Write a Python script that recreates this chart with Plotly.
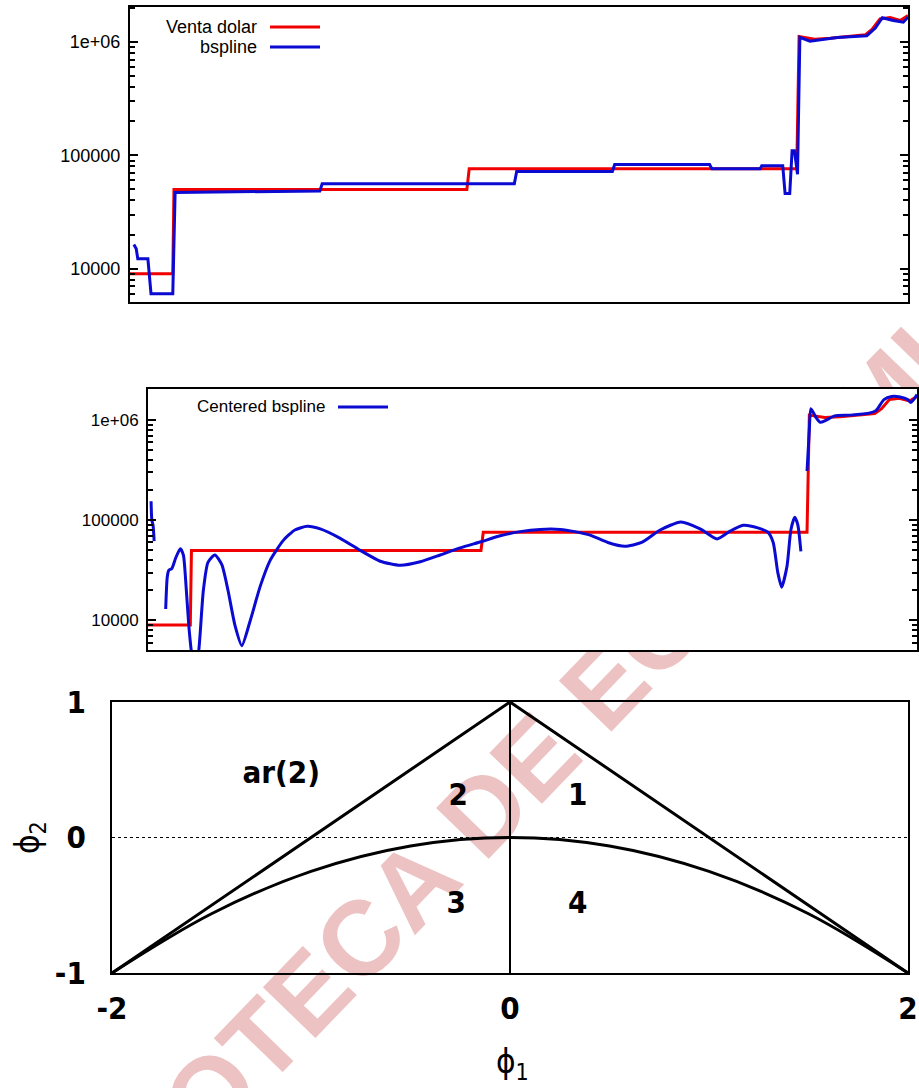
import math
import plotly.graph_objects as go

W, H = 919, 1088

# ---------------- exchange-rate series (observation index 0..1000) ----------------
venta_t = [0, 55, 56.5, 433, 436, 857, 860, 880, 900, 925, 945, 954, 964, 977, 990, 1000]
venta_v = [9000, 9000, 50000, 50000, 76000, 76000, 1.12e6, 1.06e6, 1.08e6, 1.12e6,
           1.16e6, 1.3e6, 1.6e6, 1.65e6, 1.55e6, 1.72e6]

bspline_t = [5, 8, 10, 23, 27, 55, 58, 200, 244, 247, 494, 497, 620, 623, 745, 748,
             810, 812, 839, 842, 848, 851, 854, 858, 861, 874, 896, 909, 947, 958,
             967, 981, 994, 1000]
bspline_v = [16300, 15000, 12200, 12200, 6000, 6000, 47000, 48500, 48500, 56000,
             56000, 72000, 72000, 83000, 83000, 76000, 76000, 81000, 81000, 46000,
             46000, 110000, 110000, 68000, 1.1e6, 1.02e6, 1.06e6, 1.1e6, 1.14e6,
             1.33e6, 1.64e6, 1.55e6, 1.5e6, 1.66e6]

centered_t = [4, 5, 6.5, 8, None,
              23, 25, 27, 31, 36, 42, 46, 49, 53, 57, 61, 66, 72, 78, 87, 96, 104,
              113, 122, 133, 146, 159, 176, 191, 207, 224, 250, 276, 302, 328, 354,
              380, 406, 433, 458, 484, 510, 536, 555, 575, 598, 620, 642, 666, 693,
              718, 740, 757, 774, 793, 806, 813, 819, 824, 831, 836, 841, 845, 849, None,
              857, 860, 862, 869, 874, 882, 893, 913, 939, 947, 957, 967, 978, 988,
              992, 997, 1000]
centered_v = [155000, 100000, 90000, 62000, None,
              13000, 27000, 31600, 33000, 42000, 52000, 45000, 25000, 9000, 4500,
              3000, 5000, 20000, 38000, 45000, 36000, 20000, 9000, 5600, 10000,
              22000, 40000, 63000, 80000, 87000, 82000, 66000, 50000, 39000, 35500,
              38500, 45000, 53000, 61000, 70000, 77000, 81000, 81000, 77000, 71000,
              60000, 55000, 60000, 80000, 96000, 82000, 65000, 78000, 89000, 84000,
              76000, 60000, 30000, 21500, 35000, 80000, 107000, 90000, 49000, None,
              310000, 800000, 1.3e6, 1.05e6, 0.95e6, 1.0e6, 1.1e6, 1.12e6, 1.18e6,
              1.25e6, 1.6e6, 1.72e6, 1.7e6, 1.6e6, 1.5e6, 1.65e6, 1.8e6]

log_ticks = [1e4, 1e5, 1e6]
log_tick_text = ["10000", "100000", "1e+06"]
log_minor = [6000, 7000, 8000, 9000,
             20000, 30000, 40000, 50000, 60000, 70000, 80000, 90000,
             200000, 300000, 400000, 500000, 600000, 700000, 800000, 900000, 2000000]

# ---------------- AR(2) stationarity region ----------------
triangle_phi1 = [-2, 0, 2]
triangle_phi2 = [-1, 1, -1]
divider_phi1 = [0, 0]
divider_phi2 = [-1, 1]
boundary_phi1 = [-2, -1.5, -1, -0.5, 0, 0.5, 1, 1.5, 2]
boundary_phi2 = [-1, -0.5625, -0.25, -0.0625, 0, -0.0625, -0.25, -0.5625, -1]
region_labels = ["ar(2)", "2", "1", "3", "4"]
region_phi1 = [-1.15, -0.26, 0.34, -0.27, 0.34]
region_phi2 = [0.46, 0.30, 0.30, -0.50, -0.50]

RED = "#f00000"
BLUE = "#0a0ad2"
TICK_FONT = dict(family="Liberation Sans, Arial, sans-serif", size=18, color="black")
NARROW = "DejaVu Sans Condensed, Liberation Sans Narrow, Arial Narrow, Liberation Sans, sans-serif"
BIG_FONT = dict(family=NARROW, size=31, color="black", weight="bold")


def fx(p):
    return p / W


def fy(p):
    return 1 - p / H


fig = go.Figure()

# panel 1
fig.add_trace(go.Scatter(x=venta_t, y=venta_v, mode="lines", line=dict(color=RED, width=3),
                         xaxis="x", yaxis="y", showlegend=False))
fig.add_trace(go.Scatter(x=bspline_t, y=bspline_v, mode="lines", line=dict(color=BLUE, width=3),
                         xaxis="x", yaxis="y", showlegend=False))
# panel 2
fig.add_trace(go.Scatter(x=venta_t, y=venta_v, mode="lines", line=dict(color=RED, width=3),
                         xaxis="x2", yaxis="y2", showlegend=False))
fig.add_trace(go.Scatter(x=centered_t, y=centered_v, mode="lines", connectgaps=False,
                         line=dict(color=BLUE, width=3, shape="spline", smoothing=0.6),
                         xaxis="x2", yaxis="y2", showlegend=False))
# panel 3
fig.add_trace(go.Scatter(x=[-2, 2], y=[0, 0], mode="lines",
                         line=dict(color="black", width=1, dash="dot"),
                         xaxis="x3", yaxis="y3", showlegend=False))
fig.add_trace(go.Scatter(x=triangle_phi1, y=triangle_phi2, mode="lines",
                         line=dict(color="black", width=3), xaxis="x3", yaxis="y3",
                         showlegend=False))
fig.add_trace(go.Scatter(x=divider_phi1, y=divider_phi2, mode="lines",
                         line=dict(color="black", width=2), xaxis="x3", yaxis="y3",
                         showlegend=False))
fig.add_trace(go.Scatter(x=boundary_phi1, y=boundary_phi2, mode="lines",
                         line=dict(color="black", width=3, shape="spline"),
                         xaxis="x3", yaxis="y3", showlegend=False))
fig.add_trace(go.Scatter(x=region_phi1, y=region_phi2, mode="text", text=region_labels,
                         textfont=BIG_FONT, textposition="middle center",
                         xaxis="x3", yaxis="y3", showlegend=False))

log_axis = dict(type="log", range=[3.705, 6.31], tickmode="array", tickvals=log_ticks,
                ticktext=log_tick_text, ticks="inside", ticklen=8, tickwidth=2,
                tickcolor="black", showline=True, linewidth=2, linecolor="black",
                mirror="ticks", showgrid=False, zeroline=False, tickfont=TICK_FONT,
                ticklabelstandoff=4, automargin=False,
                minor=dict(tickmode="array", tickvals=log_minor, ticks="inside",
                           ticklen=5, tickwidth=2, tickcolor="black", showgrid=False))
plain_x = dict(range=[0, 1000], showline=True, linewidth=2, linecolor="black", mirror=True,
               showticklabels=False, ticks="", showgrid=False, zeroline=False,
               automargin=False)

fig.update_layout(
    width=W, height=H, autosize=False,
    margin=dict(l=0, r=0, t=0, b=0),
    paper_bgcolor="white", plot_bgcolor="rgba(0,0,0,0)",
    xaxis=dict(plain_x, domain=[fx(130), fx(908)], anchor="y"),
    yaxis=dict(log_axis, domain=[fy(302), fy(7)], anchor="x"),
    xaxis2=dict(plain_x, domain=[fx(148), fx(917)], anchor="y2"),
    yaxis2=dict(log_axis, domain=[fy(650), fy(389)], anchor="x2",
                tickfont=dict(TICK_FONT, size=17)),
    xaxis3=dict(domain=[fx(112), fx(908)], anchor="y3", range=[-2, 2],
                tickmode="array", tickvals=[-2, 0, 2], ticktext=["-2", "0", "2"],
                ticks="", showline=True, linewidth=2, linecolor="black", mirror=True,
                showgrid=False, zeroline=False, tickfont=BIG_FONT, ticklabelstandoff=7,
                automargin=False),
    yaxis3=dict(domain=[fy(973), fy(702)], anchor="x3", range=[-1, 1],
                tickmode="array", tickvals=[-1, 0, 1], ticktext=["-1", "0", "1"],
                ticks="", showline=True, linewidth=2, linecolor="black", mirror=True,
                showgrid=False, zeroline=False, tickfont=BIG_FONT, ticklabelstandoff=18,
                automargin=False),
)

# library stamp running diagonally behind the page, hidden under the two log panels
cx, cy, half, ang = 480, 800, 400, 46.0
dx, dy = half * math.cos(math.radians(ang)), half * math.sin(math.radians(ang))
shapes = [
    dict(type="line", xref="paper", yref="paper", layer="below",
         x0=fx(cx - dx), y0=fy(cy + dy), x1=fx(cx + dx), y1=fy(cy - dy),
         line=dict(width=0, color="rgba(0,0,0,0)"),
         label=dict(text="BIBLIOTECA DE ECONOMIA", textangle=-ang, textposition="middle",
                    yanchor="middle",
                    font=dict(family="Liberation Sans, Arial, sans-serif", size=106,
                              color="#ecc2c2", weight="bold"))),
    dict(type="rect", xref="paper", yref="paper", layer="below",
         x0=fx(130), x1=fx(908), y0=fy(302), y1=fy(7), fillcolor="white",
         line=dict(width=0)),
    dict(type="rect", xref="paper", yref="paper", layer="below",
         x0=fx(148), x1=fx(917), y0=fy(650), y1=fy(389), fillcolor="white",
         line=dict(width=0)),
]

# key samples for the log panels
shapes += [
    dict(type="line", xref="paper", yref="paper", x0=fx(270), x1=fx(320), y0=fy(27), y1=fy(27),
         line=dict(color=RED, width=3)),
    dict(type="line", xref="paper", yref="paper", x0=fx(270), x1=fx(320), y0=fy(47), y1=fy(47),
         line=dict(color=BLUE, width=3)),
    dict(type="line", xref="paper", yref="paper", x0=fx(338), x1=fx(388), y0=fy(407), y1=fy(407),
         line=dict(color=BLUE, width=3)),
]
fig.update_layout(shapes=shapes)

annotations = [
    dict(text="Venta dolar", x=fx(259), y=fy(27), xanchor="right", yanchor="middle"),
    dict(text="bspline", x=fx(259), y=fy(47), xanchor="right", yanchor="middle"),
    dict(text="Centered bspline", x=fx(328), y=fy(407), xanchor="right", yanchor="middle",
         font=dict(TICK_FONT, size=17)),
]
for a in annotations:
    a.update(xref="paper", yref="paper", showarrow=False)
    a.setdefault("font", TICK_FONT)

annotations += [
    dict(text="ϕ<sub>1</sub>", x=fx(512), y=fy(1063), xref="paper", yref="paper",
         showarrow=False, xanchor="center", yanchor="middle",
         font=dict(BIG_FONT, weight="normal", size=33)),
    dict(text="ϕ<sub>2</sub>", x=fx(29), y=fy(838), xref="paper", yref="paper",
         showarrow=False, xanchor="center", yanchor="middle", textangle=-90,
         font=dict(BIG_FONT, weight="normal", size=33)),
]
fig.update_layout(annotations=annotations)

fig.write_html("out.html")
